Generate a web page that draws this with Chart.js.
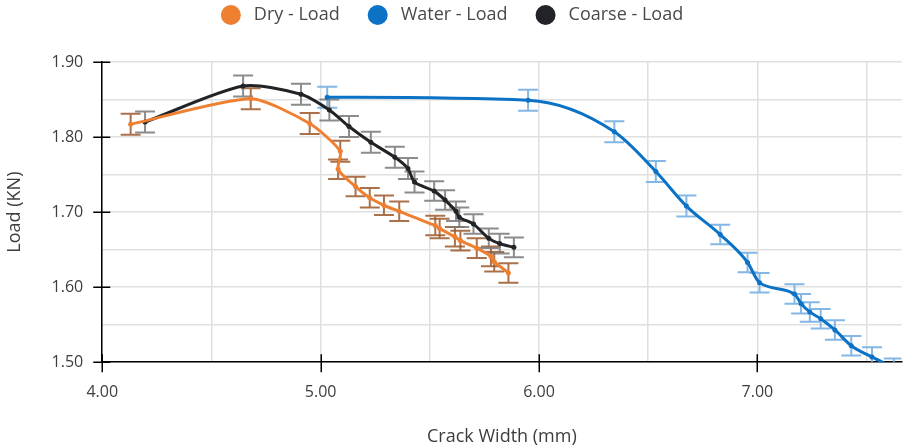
<!DOCTYPE html>
<html>
<head>
<meta charset="utf-8">
<script src="https://cdn.jsdelivr.net/npm/chart.js@4.4.1/dist/chart.umd.min.js"></script>
<style>
  html, body { margin: 0; padding: 0; background: #fff; }
  #wrap { width: 904px; height: 448px; position: relative; }
</style>
</head>
<body>
<div id="wrap"><canvas id="chart"></canvas></div>
<script>
// Crack width (mm) and load (KN) readings for each mix, with error margins
const dryWidth = [4.13, 4.68, 4.95, 5.09, 5.08, 5.16, 5.225, 5.29, 5.36, 5.525, 5.545, 5.615, 5.64, 5.715, 5.78, 5.795, 5.86];
const dryLoad  = [1.817, 1.851, 1.818, 1.781, 1.757, 1.734, 1.719, 1.709, 1.701, 1.682, 1.678, 1.667, 1.662, 1.652, 1.641, 1.634, 1.619];
const dryErr   = [0.014, 0.014, 0.014, 0.014, 0.013, 0.013, 0.013, 0.013, 0.013, 0.013, 0.013, 0.013, 0.013, 0.013, 0.013, 0.013, 0.013];

const waterWidth = [5.03, 5.95, 6.345, 6.535, 6.675, 6.83, 6.955, 7.01, 7.17, 7.20, 7.24, 7.29, 7.355, 7.43, 7.525, 7.625];
const waterLoad  = [1.853, 1.849, 1.807, 1.754, 1.708, 1.670, 1.633, 1.606, 1.591, 1.578, 1.567, 1.558, 1.543, 1.522, 1.507, 1.492];
const waterErr   = [0.014, 0.014, 0.014, 0.014, 0.014, 0.013, 0.013, 0.013, 0.013, 0.013, 0.013, 0.013, 0.013, 0.013, 0.013, 0.013];

const coarseWidth = [4.196, 4.645, 4.91, 5.04, 5.13, 5.23, 5.34, 5.40, 5.43, 5.52, 5.57, 5.62, 5.635, 5.70, 5.77, 5.82, 5.885];
const coarseLoad  = [1.820, 1.868, 1.857, 1.836, 1.814, 1.793, 1.773, 1.758, 1.740, 1.728, 1.716, 1.701, 1.693, 1.684, 1.665, 1.658, 1.653];
const coarseErr   = [0.014, 0.014, 0.014, 0.014, 0.014, 0.014, 0.014, 0.014, 0.014, 0.013, 0.013, 0.013, 0.013, 0.013, 0.013, 0.013, 0.013];

const seriesNames = ['Dry - Load', 'Water - Load', 'Coarse - Load'];

// Axis grid positions; labels only on the whole / tenth values
const xGridValues = [4.0, 4.5, 5.0, 5.5, 6.0, 6.5, 7.0, 7.5];
const xLabelValues = [4.0, 5.0, 6.0, 7.0];
const yLabelValues = [1.5, 1.6, 1.7, 1.8, 1.9];

const FONT = "'Open Sans', 'DejaVu Sans', sans-serif";
const TEXT = '#3d3d3d';

function points(xs, ys) { return xs.map((x, i) => ({ x: x, y: ys[i] })); }
function isLabelled(list, v) { return list.some(t => Math.abs(t - v) < 1e-6); }

// Vertical error bars with caps, drawn under the lines
const errorBars = {
  id: 'errorBars',
  beforeDatasetsDraw(chart) {
    const { ctx, chartArea, scales } = chart;
    ctx.save();
    ctx.beginPath();
    ctx.rect(chartArea.left, chartArea.top, chartArea.right - chartArea.left, chartArea.bottom - chartArea.top);
    ctx.clip();
    chart.data.datasets.forEach(ds => {
      ctx.strokeStyle = ds.errorColor;
      ctx.lineWidth = 2;
      ds.data.forEach((p, i) => {
        const e = ds.errors[i];
        const px = scales.x.getPixelForValue(p.x);
        const top = scales.y.getPixelForValue(p.y + e);
        const bot = scales.y.getPixelForValue(p.y - e);
        ctx.beginPath();
        ctx.moveTo(px, top); ctx.lineTo(px, bot);
        ctx.moveTo(px - 10, top); ctx.lineTo(px + 10, top);
        ctx.moveTo(px - 10, bot); ctx.lineTo(px + 10, bot);
        ctx.stroke();
      });
    });
    ctx.restore();
  }
};

// Tick marks crossing the axes on the labelled values
const crossTicks = {
  id: 'crossTicks',
  afterDatasetsDraw(chart) {
    const { ctx, chartArea, scales } = chart;
    ctx.save();
    ctx.strokeStyle = '#000';
    ctx.lineWidth = 1.5;
    ctx.beginPath();
    yLabelValues.forEach(v => {
      const py = Math.round(scales.y.getPixelForValue(v)) + 0.25;
      ctx.moveTo(chartArea.left - 9, py); ctx.lineTo(chartArea.left + 8, py);
    });
    xLabelValues.forEach(v => {
      const px = Math.round(scales.x.getPixelForValue(v)) + 0.25;
      ctx.moveTo(px, chartArea.bottom + 10); ctx.lineTo(px, chartArea.bottom - 8);
    });
    ctx.stroke();
    ctx.restore();
  }
};

// Centered legend row with round markers
const topLegend = {
  id: 'topLegend',
  afterDraw(chart) {
    const { ctx } = chart;
    const r = 10, gap = 13, spacing = 28;
    ctx.save();
    ctx.font = '18px ' + FONT;
    const items = chart.data.datasets.map(ds => ({ label: ds.label, color: ds.borderColor, w: ctx.measureText(ds.label).width }));
    const total = items.reduce((s, it) => s + 2 * r + gap + it.w, 0) + spacing * (items.length - 1);
    let x = (chart.width - total) / 2;
    const cy = 15;
    items.forEach(it => {
      ctx.fillStyle = it.color;
      ctx.beginPath();
      ctx.arc(x + r, cy, r, 0, Math.PI * 2);
      ctx.fill();
      ctx.fillStyle = '#4a4a4a';
      ctx.textBaseline = 'middle';
      ctx.textAlign = 'left';
      ctx.fillText(it.label, x + 2 * r + gap, cy);
      x += 2 * r + gap + it.w + spacing;
    });
    ctx.restore();
  }
};

function lineSet(label, xs, ys, errs, color, errColor, mode, tension) {
  return {
    label: label,
    data: points(xs, ys),
    errors: errs,
    errorColor: errColor,
    borderColor: color,
    backgroundColor: color,
    borderWidth: 3,
    pointRadius: 2.5,
    pointHoverRadius: 2.5,
    pointBorderWidth: 0,
    showLine: true,
    fill: false,
    tension: tension,
    cubicInterpolationMode: mode
  };
}

new Chart(document.getElementById('chart'), {
  type: 'scatter',
  data: {
    datasets: [
      lineSet(seriesNames[0], dryWidth, dryLoad, dryErr, '#ef7f31', 'rgba(155,88,42,0.85)', 'default', 0.22),
      lineSet(seriesNames[1], waterWidth, waterLoad, waterErr, '#0b72c6', 'rgba(110,170,225,0.85)', 'monotone', 0.4),
      lineSet(seriesNames[2], coarseWidth, coarseLoad, coarseErr, '#222327', 'rgba(120,120,120,0.85)', 'default', 0.25)
    ]
  },
  plugins: [errorBars, crossTicks, topLegend],
  options: {
    responsive: true,
    maintainAspectRatio: false,
    animation: false,
    layout: { padding: { top: 62, left: 4, right: 0, bottom: 0 } },
    plugins: {
      legend: { display: false },
      tooltip: { enabled: false }
    },
    scales: {
      x: {
        type: 'linear',
        min: 4,
        max: 7.66,
        afterBuildTicks(scale) { scale.ticks = xGridValues.map(v => ({ value: v })); },
        ticks: {
          autoSkip: false,
          maxRotation: 0,
          padding: 11,
          color: TEXT,
          font: { family: FONT, size: 16 },
          callback: v => isLabelled(xLabelValues, v) ? v.toFixed(2) : ''
        },
        grid: {
          color: '#e0e0e0',
          lineWidth: 1.5,
          tickLength: 10,
          tickColor: 'rgba(0,0,0,0)'
        },
        border: { display: true, color: '#000', width: 1.5 },
        title: {
          display: true,
          text: 'Crack Width (mm)',
          color: TEXT,
          font: { family: FONT, size: 18 },
          padding: { top: 13, bottom: 0 }
        }
      },
      y: {
        type: 'linear',
        min: 1.5,
        max: 1.9,
        ticks: {
          stepSize: 0.05,
          padding: 10,
          color: TEXT,
          font: { family: FONT, size: 16 },
          callback: v => isLabelled(yLabelValues, v) ? v.toFixed(2) : ''
        },
        grid: {
          color: '#e0e0e0',
          lineWidth: 1.5,
          tickLength: 9,
          tickColor: 'rgba(0,0,0,0)'
        },
        border: { display: true, color: '#000', width: 1.5 },
        title: {
          display: true,
          text: 'Load (KN)',
          color: TEXT,
          font: { family: FONT, size: 18 },
          padding: { top: 0, bottom: 16 }
        }
      }
    }
  }
});
</script>
</body>
</html>
